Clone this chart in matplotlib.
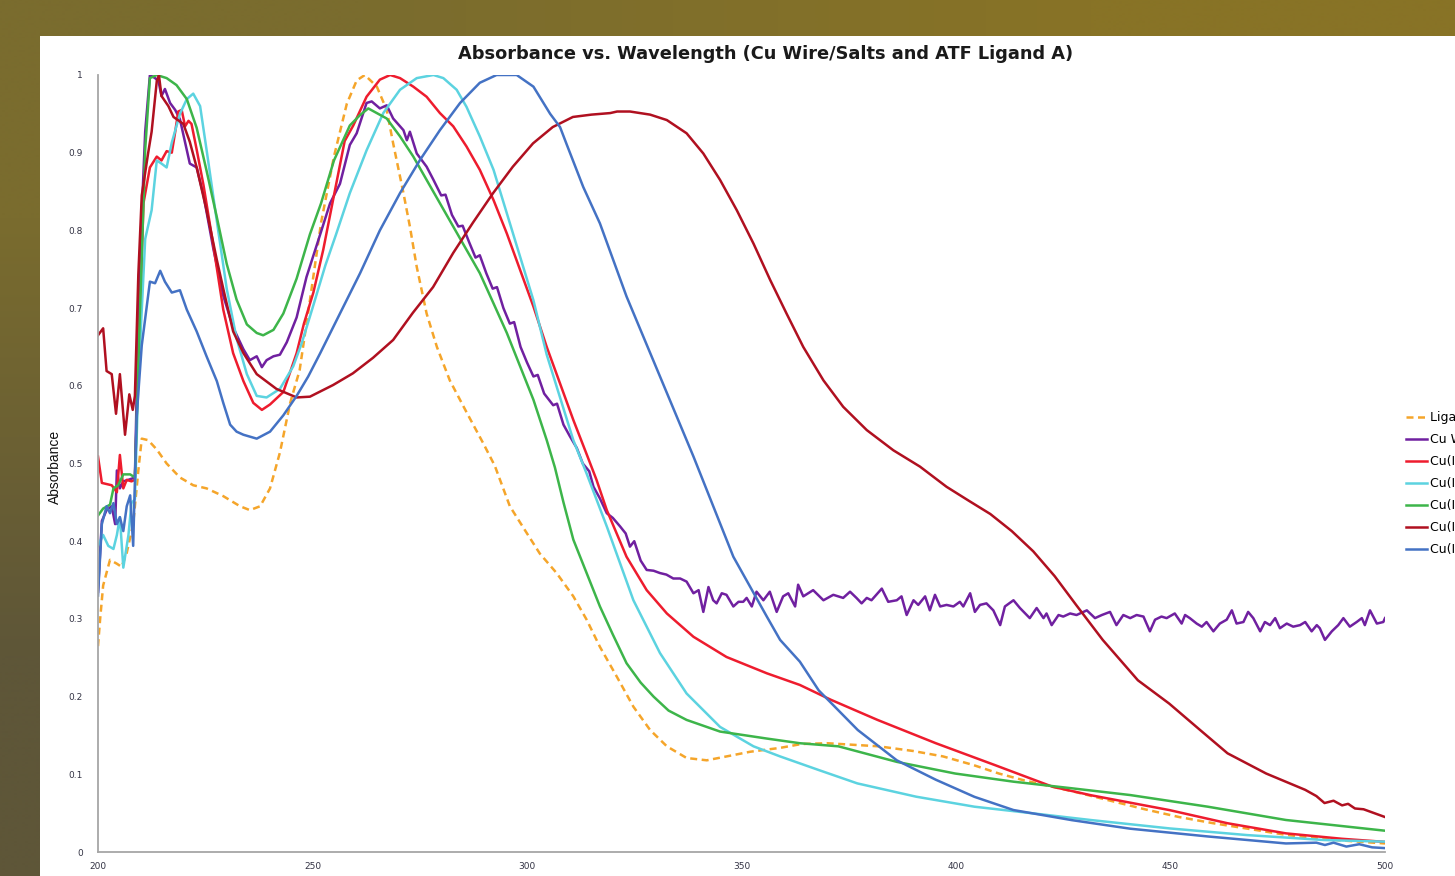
import numpy as np
import matplotlib
matplotlib.use("Agg")
import matplotlib.pyplot as plt
from matplotlib.patches import Rectangle

# --- data (wavelength nm, absorbance) ---
ligand_wl = [200, 200.5, 201.2, 202.8, 204.4, 205.5, 206.7, 208.2, 209.4, 210.2, 211.7, 213.7, 216, 219.1,
             222.2, 225.3, 229.2, 233.1, 235.4, 237.8, 240.1, 242.4, 244.8, 247, 249.4, 252, 255, 258, 260.3,
             262.2, 265, 267.3, 268.8, 271.2, 272.7, 274.3, 276.6, 279, 282, 286, 289.8, 292.5, 296, 300, 303,
             306.9, 310.8, 313.9, 317, 320.9, 324.8, 328.7, 332.6, 337.2, 341.9, 346.5, 352, 359, 364, 370, 376,
             382, 390, 397, 404, 410, 416, 422.5, 428, 436, 444, 452, 460, 468, 477, 485, 492, 500]
ligand_ab = [0.265, 0.30, 0.343, 0.376, 0.371, 0.367, 0.385, 0.422, 0.491, 0.532, 0.53, 0.518, 0.50, 0.482,
             0.472, 0.468, 0.458, 0.445, 0.44, 0.445, 0.468, 0.514, 0.578, 0.62, 0.71, 0.81, 0.895, 0.963, 0.993,
             1.0, 0.985, 0.955, 0.912, 0.848, 0.805, 0.753, 0.693, 0.65, 0.607, 0.565, 0.526, 0.497, 0.445, 0.41,
             0.384, 0.359, 0.329, 0.299, 0.264, 0.226, 0.187, 0.157, 0.136, 0.121, 0.118, 0.123, 0.129, 0.134,
             0.139, 0.140, 0.138, 0.136, 0.130, 0.123, 0.112, 0.101, 0.092, 0.084, 0.077, 0.066, 0.055, 0.045,
             0.037, 0.030, 0.022, 0.017, 0.014, 0.011]

wire_wl = [200, 200.9, 202, 203.2, 204, 204.4, 205.1, 205.9, 207.1, 208.6, 209.6, 211, 212.1, 213.3, 214.1,
           214.8, 215.6, 216.8, 218, 219.1, 220.3, 221.4, 223, 224.6, 226.9, 229.2, 231.5, 233.9, 235.4, 237,
           238.2, 239.3, 240.9, 242.4, 244, 246.3, 248.6, 251.8, 254.1, 256.4, 258.7, 260.3, 262.6, 263.8, 265.7,
           267.3, 268.8, 271.2, 272, 272.7, 274.3, 276.6, 278.2, 280, 281, 282.5, 284, 285, 286.5, 288, 289,
           290.5, 292, 293, 294.5, 296, 297, 298.5, 300, 301.5, 302.5, 304, 306.1, 307, 308.5, 310, 311.6, 313,
           314.5, 315.5, 317, 318.6, 320, 321.7, 323, 324, 325, 326.5, 327.9, 329.5, 331, 332.5, 334.1, 335.7,
           337.2, 338.8, 340.0, 341.1, 342.3, 343.4, 344.2, 345.4, 346.5, 348.1, 349.3, 350.4, 351.2, 352.4,
           353.5, 355.1, 356.6, 358.2, 359.7, 360.9, 362.5, 363.2, 364.4, 366.7, 369.1, 371.4, 373.7, 375.3,
           376.8, 378.0, 379.2, 380.3, 382.7, 384.2, 386.2, 387.3, 388.5, 390.1, 391.2, 392.8, 393.9, 395.1,
           396.3, 397.8, 399.4, 400.9, 401.7, 403.3, 404.4, 405.6, 407.1, 408.7, 410.3, 411.4, 413.4, 414.9,
           417.2, 418.8, 420.4, 421.1, 422.3, 423.9, 425.0, 426.6, 428.1, 428.9, 430.5, 432.4, 434.0, 435.9,
           437.4, 439.0, 440.6, 442.1, 443.7, 445.2, 446.4, 447.9, 449.1, 451.0, 452.6, 453.4, 454.5, 456.1,
           457.3, 458.4, 460.0, 461.5, 463.1, 464.3, 465.4, 467.0, 468.1, 469.3, 470.9, 472.0, 473.2, 474.4,
           475.5, 477.1, 478.6, 480.2, 481.4, 482.9, 484.1, 484.8, 486.0, 487.6, 489.1, 490.3, 491.8, 493.4,
           494.6, 495.3, 496.5, 498.1, 499.6, 500]
wire_ab = [0.335, 0.426, 0.44, 0.445, 0.422, 0.491, 0.468, 0.477, 0.479, 0.482, 0.743, 0.927, 1.0, 0.996, 0.992,
           0.973, 0.982, 0.964, 0.955, 0.943, 0.913, 0.886, 0.881, 0.845, 0.776, 0.716, 0.675, 0.647, 0.633, 0.638,
           0.624, 0.633, 0.638, 0.64, 0.656, 0.688, 0.74, 0.795, 0.835, 0.86, 0.91, 0.925, 0.964, 0.966, 0.957,
           0.961, 0.944, 0.929, 0.916, 0.927, 0.899, 0.882, 0.865, 0.845, 0.846, 0.82, 0.805, 0.806, 0.785, 0.765,
           0.768, 0.745, 0.725, 0.727, 0.70, 0.68, 0.682, 0.65, 0.63, 0.612, 0.614, 0.59, 0.575, 0.577, 0.55,
           0.535, 0.52, 0.50, 0.49, 0.47, 0.455, 0.436, 0.43, 0.419, 0.41, 0.393, 0.40, 0.375, 0.363, 0.362,
           0.359, 0.357, 0.352, 0.352,
           0.348, 0.333, 0.337, 0.309, 0.341, 0.324, 0.320, 0.333, 0.331, 0.316, 0.322, 0.322, 0.327, 0.316,
           0.335, 0.324, 0.335, 0.309, 0.329, 0.333, 0.316, 0.344, 0.329, 0.337, 0.324, 0.331, 0.327, 0.335,
           0.327, 0.320, 0.327, 0.324, 0.339, 0.322, 0.324, 0.329, 0.305, 0.324, 0.318, 0.329, 0.311, 0.331,
           0.316, 0.318, 0.316, 0.322, 0.316, 0.333, 0.309, 0.318, 0.320, 0.311, 0.292, 0.316, 0.324, 0.314,
           0.301, 0.314, 0.301, 0.307, 0.292, 0.305, 0.303, 0.307, 0.305, 0.307, 0.311, 0.301, 0.305, 0.309,
           0.292, 0.305, 0.301, 0.305, 0.303, 0.284, 0.299, 0.303, 0.301, 0.307, 0.294, 0.305, 0.301, 0.294,
           0.290, 0.296, 0.284, 0.294, 0.299, 0.311, 0.294, 0.296, 0.309, 0.301, 0.284, 0.296, 0.292, 0.301,
           0.288, 0.294, 0.290, 0.292, 0.296, 0.284, 0.292, 0.288, 0.273, 0.284, 0.292, 0.301, 0.290, 0.296,
           0.301, 0.292, 0.311, 0.294, 0.296, 0.301]

salt1_wl = [200, 200.9, 203.2, 204.4, 205.1, 205.9, 206.7, 207.8, 208.6, 209.8, 210.6, 212.1, 213.7, 214.8,
            216, 217.2, 218, 218.7, 219.5, 220.3, 221.1, 221.8, 223, 224.6, 226.9, 229.2, 231.5, 233.9, 236.2,
            238.2, 240.1, 243.2, 246.3, 248, 250.2, 252.5, 255, 257.5, 259.5, 262.6, 265.7, 268.1, 270.4, 273.5,
            276.6, 279.7, 282.8, 285.9, 289, 292.2, 295.3, 298.4, 301.5, 304.6, 307.7, 310.8, 313.9, 316.2,
            318.6, 323.2, 327.9, 332.6, 338.8, 346.5, 355.9, 363.6, 370.8, 381.7, 395.3, 409, 422.5, 431.5,
            449.7, 463.3, 476.9, 490, 500]
salt1_ab = [0.509, 0.475, 0.472, 0.463, 0.511, 0.468, 0.479, 0.477, 0.479, 0.698, 0.835, 0.881, 0.895, 0.89,
            0.902, 0.90, 0.927, 0.953, 0.955, 0.934, 0.941, 0.937, 0.904, 0.858, 0.78, 0.698, 0.642, 0.606, 0.578,
            0.569, 0.576, 0.592, 0.642, 0.68, 0.72, 0.775, 0.845, 0.915, 0.935, 0.972, 0.994, 1.0, 0.996, 0.985,
            0.972, 0.951, 0.934, 0.908, 0.878, 0.839, 0.796, 0.749, 0.702, 0.65, 0.603, 0.556, 0.512, 0.479,
            0.44, 0.38, 0.337, 0.307, 0.277, 0.251, 0.23, 0.215, 0.196, 0.170, 0.140, 0.112, 0.084, 0.073,
            0.054, 0.037, 0.024, 0.017, 0.013]

salt2_wl = [200, 201.2, 202.4, 203.6, 204.4, 205.1, 205.9, 207.1, 207.8, 208.6, 209.4, 211, 212.5, 213.7,
            214.8, 216, 217.2, 219.1, 220.7, 222.2, 223.8, 225.3, 227.7, 230, 232.3, 234.7, 237, 239.3, 242.4,
            245.5, 247.5, 250, 253, 255.5, 258.7, 262.6, 266.5, 270.4, 274.3, 278.2, 280.5, 283.6, 285.9, 289,
            292.2, 295.3, 298.4, 301.5, 304.6, 307.7, 310.8, 313.9, 318.6, 324.8, 331, 337.2, 345, 352.8, 359,
            368, 377, 390.7, 404.3, 418, 431.5, 449.7, 467.8, 485.9, 500]
salt2_ab = [0.394, 0.408, 0.394, 0.39, 0.408, 0.431, 0.366, 0.408, 0.449, 0.454, 0.606, 0.789, 0.826, 0.89,
            0.886, 0.881, 0.913, 0.95, 0.969, 0.976, 0.96, 0.904, 0.812, 0.725, 0.661, 0.615, 0.587, 0.585, 0.596,
            0.625, 0.655, 0.70, 0.755, 0.795, 0.848, 0.903, 0.951, 0.981, 0.996, 1.0, 0.996, 0.981, 0.959, 0.921,
            0.878, 0.822, 0.766, 0.71, 0.64, 0.585, 0.53, 0.487, 0.419, 0.324, 0.256, 0.204, 0.161, 0.136, 0.123,
            0.1055, 0.0883, 0.0712, 0.0583, 0.0497, 0.0411, 0.0304, 0.0218, 0.0154, 0.0133]

salt3_wl = [200, 201.2, 202.8, 203.6, 204.7, 205.9, 207.5, 208.6, 209.8, 211, 212.1, 213.7, 216, 218.3, 220.7,
            223, 225.3, 227.7, 230, 232.3, 234.7, 237, 238.5, 240.9, 243.2, 246.3, 249.4, 252, 255, 258.7, 261,
            263, 267.3, 270.4, 273.5, 276.6, 279.7, 282.8, 285.9, 289, 292.2, 295.3, 298.4, 301.5, 304.6, 306.5,
            308.5, 310.8, 313.9, 317, 320, 323.2, 326.5, 329.5, 333, 337.2, 345, 355.9, 363.6, 372.6, 386.2,
            399.8, 413.4, 427, 440.6, 458.7, 476.9, 500]
salt3_ab = [0.433, 0.442, 0.447, 0.468, 0.472, 0.486, 0.486, 0.482, 0.698, 0.904, 0.996, 1.0, 0.996, 0.987,
            0.969, 0.932, 0.877, 0.817, 0.757, 0.711, 0.679, 0.668, 0.665, 0.672, 0.693, 0.738, 0.795, 0.835,
            0.89, 0.935, 0.948, 0.957, 0.944, 0.921, 0.895, 0.865, 0.835, 0.805, 0.775, 0.745, 0.706, 0.668,
            0.625, 0.582, 0.53, 0.495, 0.45, 0.402, 0.359, 0.316, 0.28, 0.243, 0.218, 0.20, 0.182, 0.17, 0.155,
            0.146, 0.14, 0.136, 0.116, 0.101, 0.0905, 0.082, 0.0733, 0.0583, 0.0412, 0.0274]

salt4_wl = [200, 201.2, 202, 203.2, 204.2, 205.1, 206.3, 207.3, 208.1, 208.6, 209.4, 210.2, 211.7, 212.5, 213.7,
            214.2, 214.8, 216.4, 217.6, 219.9, 221.4, 223, 225.3, 227.7, 229.2, 231.5, 233.9, 237, 241.6, 246.3,
            249.4, 254.8, 259.4, 264.1, 268.8, 273.4, 278.1, 282.8, 287.4, 292.1, 296.7, 301.4, 306, 310.7, 315,
            319.4, 321, 324, 328.7, 332.6, 337.2, 341.1, 345, 348.9, 352.8, 356.7, 360.5, 364.4, 369.1, 373.7,
            379.2, 385.4, 391.6, 397.8, 403, 408, 413, 418, 423, 428, 434.2, 442.4, 449.7, 456.9, 463.3, 472.3,
            481.4, 484, 485.9, 488, 490, 491.4, 493, 495, 500]
salt4_ab = [0.665, 0.674, 0.619, 0.615, 0.564, 0.615, 0.537, 0.589, 0.569, 0.587, 0.743, 0.845, 0.90, 0.927,
            0.992, 1.0, 0.973, 0.96, 0.946, 0.937, 0.914, 0.881, 0.826, 0.762, 0.725, 0.67, 0.642, 0.615, 0.596,
            0.585, 0.586, 0.601, 0.616, 0.636, 0.659, 0.694, 0.727, 0.771, 0.81, 0.848, 0.882, 0.912, 0.933,
            0.946, 0.949, 0.951, 0.953, 0.953, 0.949, 0.942, 0.925, 0.899, 0.865, 0.826, 0.783, 0.736, 0.693,
            0.650, 0.607, 0.573, 0.543, 0.517, 0.496, 0.47, 0.452, 0.435, 0.413, 0.387, 0.355, 0.318, 0.273,
            0.221, 0.191, 0.157, 0.127, 0.101, 0.080, 0.072, 0.063, 0.066, 0.060, 0.062, 0.056, 0.055, 0.045]

salt5_wl = [200, 200.9, 202, 202.8, 203.6, 204.4, 205.1, 205.9, 206.7, 207.5, 208.2, 209, 210.2, 212.1, 213.3,
            214.5, 215.6, 217.2, 219.1, 220.7, 223, 225.3, 227.7, 229.2, 230.8, 232.3, 233.9, 237, 240.1, 243.2,
            246.3, 249, 251.8, 256.4, 261.1, 265.7, 270.4, 275.1, 279.7, 284.4, 289, 292.9, 297.6, 301.5, 305.4,
            307.7, 309.3, 313.1, 317, 323.2, 331, 338.8, 341.9, 348.1, 355.9, 359, 363.6, 368, 377.1, 386.2,
            395.3, 404.3, 413.4, 427, 440.6, 458.7, 476.9, 484, 486, 488, 491, 494, 497, 500]
salt5_ab = [0.33, 0.422, 0.445, 0.436, 0.449, 0.422, 0.431, 0.413, 0.445, 0.459, 0.394, 0.56, 0.652, 0.734,
            0.732, 0.748, 0.734, 0.72, 0.723, 0.698, 0.67, 0.638, 0.606, 0.578, 0.55, 0.541, 0.537, 0.532, 0.541,
            0.562, 0.587, 0.612, 0.642, 0.693, 0.745, 0.80, 0.848, 0.891, 0.929, 0.964, 0.99, 1.0, 1.0, 0.985,
            0.95, 0.933, 0.91, 0.856, 0.809, 0.715, 0.612, 0.509, 0.466, 0.38, 0.303, 0.273, 0.245, 0.208, 0.157,
            0.118, 0.093, 0.071, 0.054, 0.041, 0.030, 0.020, 0.011, 0.012, 0.009, 0.012, 0.007, 0.010, 0.006,
            0.005]

series = [
    ("Ligand A", ligand_wl, ligand_ab, "#F5A52A", "dash"),
    ("Cu Wire", wire_wl, wire_ab, "#7020A0", "solid"),
    ("Cu(II) Chloride", salt1_wl, salt1_ab, "#EE1C2E", "solid"),
    ("Cu(II) Nitrate", salt2_wl, salt2_ab, "#5CD3E0", "solid"),
    ("Cu(II) Sulfate", salt3_wl, salt3_ab, "#3DB54A", "solid"),
    ("Cu(II) Acetate", salt4_wl, salt4_ab, "#B01020", "solid"),
    ("Cu(II) Bromide", salt5_wl, salt5_ab, "#4472C4", "solid"),
]

W, H = 1455, 876
fig = plt.figure(figsize=(W / 100, H / 100), dpi=100)

# olive slide background with a soft gradient
bg = fig.add_axes([0, 0, 1, 1])
corners = np.array([[[0x7A, 0x6C, 0x2E], [0x88, 0x73, 0x26]],
                    [[0x5E, 0x56, 0x38], [0x6A, 0x5F, 0x35]]]) / 255.0
bg.imshow(corners, extent=[0, 1, 0, 1], interpolation="bilinear", aspect="auto")
bg.set_xlim(0, 1)
bg.set_ylim(0, 1)
bg.axis("off")
bg.add_patch(Rectangle((40 / W, 0), 1 - 40 / W, 1 - 36 / H, transform=bg.transAxes,
                       facecolor="white", edgecolor="none", zorder=3))

ax = fig.add_axes([98 / W, 24 / H, 1287 / W, 777 / H])
ax.patch.set_alpha(0)
for label, wl, ab, color, style in series:
    ls = (0, (2.8, 1.8)) if style == "dash" else "-"
    ax.plot(wl, ab, color=color, lw=1.8, ls=ls, label=label, solid_joinstyle="round")

ax.set_xlim(200, 500)
ax.set_ylim(0, 1)
ax.set_xticks([200, 250, 300, 350, 400, 450, 500])
ax.set_yticks(np.round(np.arange(0, 1.01, 0.1), 1))
ax.set_yticklabels(["0", "0.1", "0.2", "0.3", "0.4", "0.5", "0.6", "0.7", "0.8", "0.9", "1"])
ax.tick_params(axis="both", length=0, labelsize=6.5, colors="#333344")
ax.tick_params(axis="y", pad=11)
ax.tick_params(axis="x", pad=7)
for s in ("top", "right"):
    ax.spines[s].set_visible(False)
for s in ("left", "bottom"):
    ax.spines[s].set_color("#A6A6A6")
    ax.spines[s].set_linewidth(1.3)

fig.text(766 / W, 1 - 54 / H, "Absorbance vs. Wavelength (Cu Wire/Salts and ATF Ligand A)",
         ha="center", va="center", fontsize=12.8, fontweight="bold", color="#1a1a1a")
fig.text(55 / W, 1 - 467 / H, "Absorbance", rotation=90, ha="center", va="center",
         fontsize=10, color="#111111", family="Liberation Sans")

# legend sits partly past the right edge, cut off as in the reference
fig.legend(loc="upper left", bbox_to_anchor=(1406 / W, 1 - 411 / H), frameon=False,
           fontsize=9, handlelength=1.7, handletextpad=0.25, labelspacing=0.72, borderpad=0,
           borderaxespad=0)

fig.savefig("out.png", dpi=100)
